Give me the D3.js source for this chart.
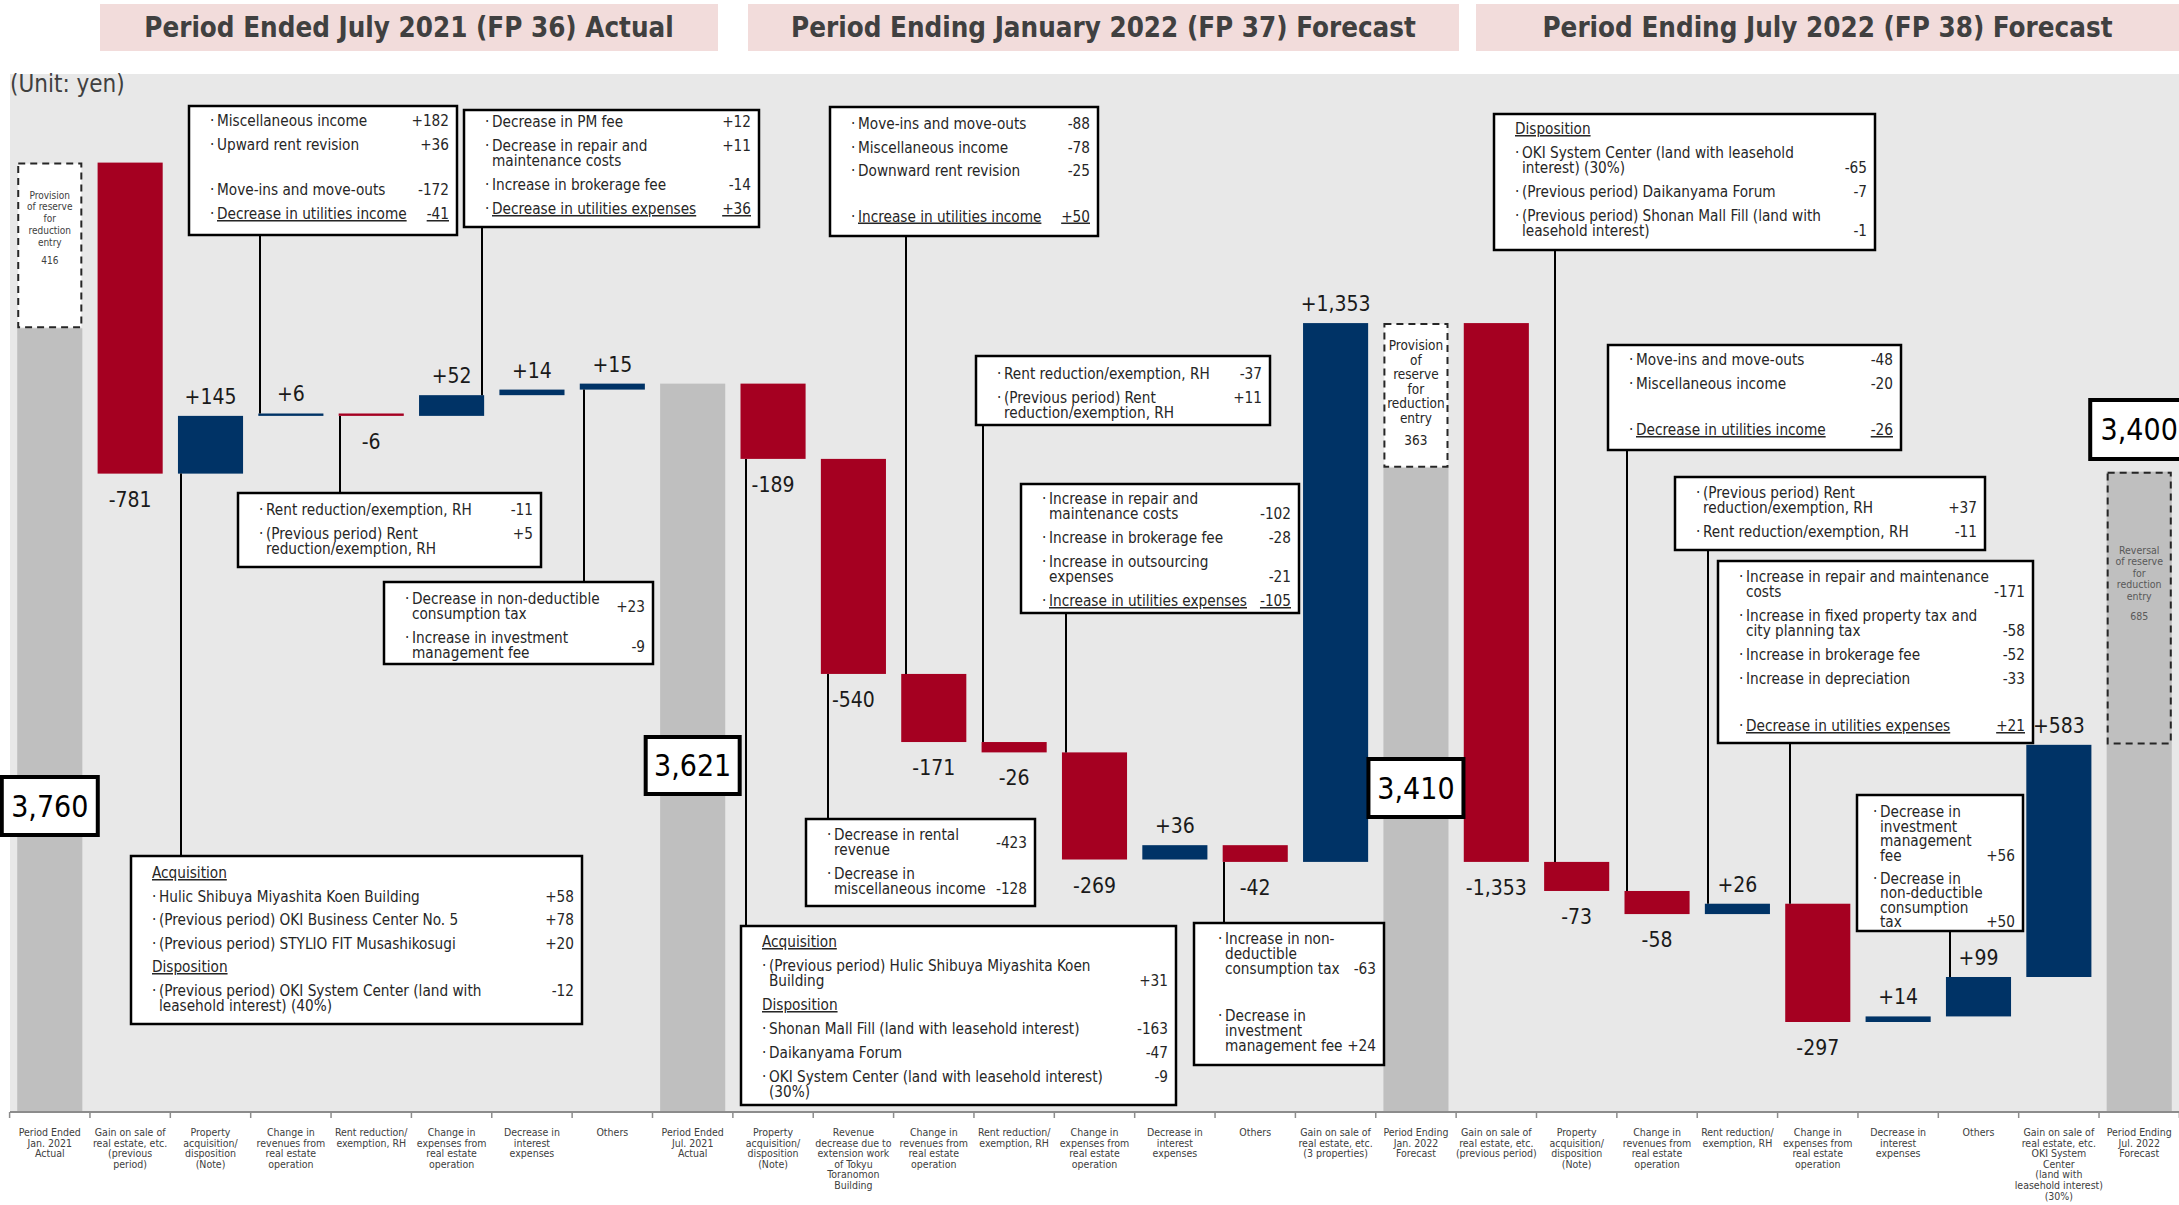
<!DOCTYPE html>
<html>
<head>
<meta charset="utf-8">
<script src="https://cdn.jsdelivr.net/npm/d3@7"></script>
<style>
  body { margin: 0; background: #fff; }
  svg { display: block; font-family: "DejaVu Sans Condensed", "DejaVu Sans", sans-serif; font-stretch: condensed; }
</style>
</head>
<body>
<svg id="chart" width="2179" height="1205"></svg>
<script>
// ---- data (unit: yen) ----
var periods = ["Period Ended July 2021 (FP 36) Actual",
               "Period Ending January 2022 (FP 37) Forecast",
               "Period Ending July 2022 (FP 38) Forecast"];

var categories = [
  ["Period Ended", "Jan. 2021", "Actual"],
  ["Gain on sale of", "real estate, etc.", "(previous", "period)"],
  ["Property", "acquisition/", "disposition", "(Note)"],
  ["Change in", "revenues from", "real estate", "operation"],
  ["Rent reduction/", "exemption, RH"],
  ["Change in", "expenses from", "real estate", "operation"],
  ["Decrease in", "interest", "expenses"],
  ["Others"],
  ["Period Ended", "Jul. 2021", "Actual"],
  ["Property", "acquisition/", "disposition", "(Note)"],
  ["Revenue", "decrease due to", "extension work", "of Tokyu", "Toranomon", "Building"],
  ["Change in", "revenues from", "real estate", "operation"],
  ["Rent reduction/", "exemption, RH"],
  ["Change in", "expenses from", "real estate", "operation"],
  ["Decrease in", "interest", "expenses"],
  ["Others"],
  ["Gain on sale of", "real estate, etc.", "(3 properties)"],
  ["Period Ending", "Jan. 2022", "Forecast"],
  ["Gain on sale of", "real estate, etc.", "(previous period)"],
  ["Property", "acquisition/", "disposition", "(Note)"],
  ["Change in", "revenues from", "real estate", "operation"],
  ["Rent reduction/", "exemption, RH"],
  ["Change in", "expenses from", "real estate", "operation"],
  ["Decrease in", "interest", "expenses"],
  ["Others"],
  ["Gain on sale of", "real estate, etc.", "OKI System", "Center", "(land with", "leasehold interest)", "(30%)"],
  ["Period Ending", "Jul. 2022", "Forecast"]
];

var values = [3760, -781, 145, 6, -6, 52, 14, 15,
              3621, -189, -540, -171, -26, -269, 36, -42, 1353,
              3410, -1353, -73, -58, 26, -297, 14, 99, 583,
              3400];
var totalIdx = [0, 8, 17, 26];

var reserveIdx = [0, 17, 26];
var reserveAmt = [416, 363, 685];
var reserveKind = ["provision", "provision", "reversal"];
var reserveLines = [
  ["Provision", "of reserve", "for", "reduction", "entry"],
  ["Provision", "of", "reserve", "for", "reduction", "entry"],
  ["Reversal", "of  reserve", "for", "reduction", "entry"]
];

// breakdown notes: text content, the bar each one points to
var noteCat = [3, 5, 4, 7, 2, 11, 12, 13, 10, 9, 15, 19, 20, 21, 22, 24];
var noteText = [
  [{t:["Miscellaneous income"], v:"+182"}, {t:["Upward rent revision"], v:"+36"}, {gap:21},
   {t:["Move-ins and move-outs"], v:"-172"}, {t:["Decrease in utilities income"], v:"-41", u:1}],
  [{t:["Decrease in PM fee"], v:"+12"}, {t:["Decrease in repair and", "maintenance costs"], v:"+11", at:0},
   {t:["Increase in brokerage fee"], v:"-14"}, {t:["Decrease in utilities expenses"], v:"+36", u:1}],
  [{t:["Rent reduction/exemption, RH"], v:"-11"}, {t:["(Previous period) Rent", "reduction/exemption, RH"], v:"+5", at:0}],
  [{t:["Decrease in non-deductible", "consumption tax"], v:"+23", at:0.5}, {t:["Increase in investment", "management fee"], v:"-9", at:0.6}],
  [{h:"Acquisition"}, {t:["Hulic Shibuya Miyashita Koen Building"], v:"+58"},
   {t:["(Previous period)  OKI Business Center No. 5"], v:"+78"},
   {t:["(Previous period) STYLIO FIT Musashikosugi"], v:"+20"}, {h:"Disposition"},
   {t:["(Previous period) OKI System Center (land with", "leasehold interest) (40%)"], v:"-12", at:0}],
  [{t:["Move-ins and move-outs"], v:"-88"}, {t:["Miscellaneous income"], v:"-78"},
   {t:["Downward rent revision"], v:"-25"}, {gap:22}, {t:["Increase in utilities income"], v:"+50", u:1}],
  [{t:["Rent reduction/exemption, RH"], v:"-37"}, {t:["(Previous period) Rent", "reduction/exemption, RH"], v:"+11", at:0}],
  [{t:["Increase in repair and", "maintenance costs"], v:"-102"}, {t:["Increase in brokerage fee"], v:"-28"},
   {t:["Increase in outsourcing", "expenses"], v:"-21"}, {t:["Increase in utilities expenses"], v:"-105", u:1}],
  [{t:["Decrease in rental", "revenue"], v:"-423", at:0.5}, {t:["Decrease in", "miscellaneous income"], v:"-128"}],
  [{h:"Acquisition"}, {t:["(Previous period) Hulic Shibuya Miyashita Koen", "Building"], v:"+31"}, {h:"Disposition"},
   {t:["Shonan Mall Fill (land with leasehold interest)"], v:"-163"}, {t:["Daikanyama Forum"], v:"-47"},
   {t:["OKI System Center (land with leasehold interest)", "(30%)"], v:"-9", at:0}],
  [{t:["Increase in non-", "deductible", "consumption tax"], v:"-63"}, {gap:23},
   {t:["Decrease in", "investment", "management fee"], v:"+24"}],
  [{h:"Disposition"}, {t:["OKI System Center (land with leasehold", "interest) (30%)"], v:"-65"},
   {t:["(Previous period) Daikanyama Forum"], v:"-7"},
   {t:["(Previous period) Shonan Mall Fill (land with", "leasehold interest)"], v:"-1"}],
  [{t:["Move-ins and move-outs"], v:"-48"}, {t:["Miscellaneous income"], v:"-20"}, {gap:22},
   {t:["Decrease in utilities income"], v:"-26", u:1}],
  [{t:["(Previous period) Rent", "reduction/exemption, RH"], v:"+37"}, {t:["Rent reduction/exemption, RH"], v:"-11"}],
  [{t:["Increase in repair and maintenance", "costs"], v:"-171"}, {t:["Increase in fixed property tax and", "city planning tax"], v:"-58"},
   {t:["Increase in brokerage fee"], v:"-52"}, {t:["Increase in depreciation"], v:"-33"}, {gap:23},
   {t:["Decrease in utilities expenses"], v:"+21", u:1}],
  [{t:["Decrease in", "investment", "management", "fee"], v:"+56"},
   {t:["Decrease in", "non-deductible", "consumption", "tax"], v:"+50"}]
];

// ---- layout (pixels) ----
var noteBox = [
  {x:189, y:106, w:268, h:129, lx:260, pad:20},
  {x:464, y:110, w:295, h:117, lx:482, pad:17},
  {x:238, y:493, w:303, h:74, lx:340, pad:22},
  {x:384, y:582, w:269, h:82, lx:584, pad:22},
  {x:131, y:856, w:451, h:168, lx:181, pad:22, step:23.5},
  {x:830, y:107, w:268, h:129, lx:906, pad:22, step:23.5},
  {x:976, y:356, w:294, h:69, lx:983, pad:23},
  {x:1021, y:484, w:278, h:129, lx:1066, pad:20},
  {x:806, y:819, w:229, h:87, lx:828, pad:21},
  {x:741, y:926, w:435, h:179, lx:746, pad:21},
  {x:1194, y:923, w:190, h:142, lx:1224, pad:21, pl:24},
  {x:1494, y:114, w:381, h:136, lx:1555, pad:20},
  {x:1608, y:345, w:293, h:105, lx:1627, pad:20},
  {x:1675, y:477, w:310, h:73, lx:1708, pad:21},
  {x:1718, y:561, w:315, h:182, lx:1790, pad:21},
  {x:1857, y:795, w:166, h:136, lx:1950, pad:22, lh:14.5, step:23, pl:16}
];
var headBox = [{x:100, w:618}, {x:748, w:711}, {x:1476, w:703}];
var totalBox = [{y:777, w:96, h:58}, {y:737, w:94, h:57}, {y:759, w:95, h:58}, {y:400, w:98, h:59}];
var reserveStyle = [
  {fs:10, lh:11.8, off:36, gap:18, fill:"#fff", col:"#404040"},
  {fs:13.5, lh:14.5, off:27, gap:22, fill:"#fff", col:"#262626"},
  {fs:10.5, lh:11.6, off:82, gap:20, fill:"#bfbfbf", col:"#595959"}
];

var RED = "#a50021", NAVY = "#003366", GRAY = "#bfbfbf", TXT = "#262626";
var svg = d3.select("#chart");

var x = d3.scaleBand().domain(d3.range(categories.length))
    .range([10, 2179]).paddingInner(0.19).paddingOuter(0.09);
var y = d3.scaleLinear().domain([1792, 4176]).range([1112, 162.6]);
var base = y.domain()[0];

// plain hyphen for negatives, like the source slide
var fmt = function(v) { return d3.format(",")(v).replace("\u2212", "-"); };

// waterfall
var bars = [], level = 0;
values.forEach(function(v, i) {
  var ri = reserveIdx.indexOf(i);
  if (totalIdx.indexOf(i) >= 0) {
    bars.push({i: i, lo: base, hi: v, v: v, total: true});
    level = v;
    if (ri >= 0 && reserveKind[ri] == "provision") level = v + reserveAmt[ri];
  } else {
    var nl = level + v;
    bars.push({i: i, lo: Math.min(level, nl), hi: Math.max(level, nl), v: v});
    level = nl;
  }
});

// headers
headBox.forEach(function(b, k) {
  svg.append("rect").attr("x", b.x).attr("y", 4).attr("width", b.w).attr("height", 47).attr("fill", "#f2dcdb");
  svg.append("text").attr("x", b.x + b.w / 2).attr("y", 37).attr("text-anchor", "middle")
    .attr("font-size", 27.5).attr("font-weight", "bold").attr("fill", "#404040").text(periods[k]);
});

// plot panel
svg.append("rect").attr("x", 10).attr("y", 74).attr("width", 2169).attr("height", 1112 - 74).attr("fill", "#e8e8e8");
svg.append("text").attr("x", 10).attr("y", 92).attr("font-size", 24).attr("fill", "#404040").text("(Unit: yen)");

// bars
svg.append("g").selectAll("rect").data(bars).enter().append("rect")
  .attr("x", function(d){ return x(d.i); })
  .attr("width", x.bandwidth())
  .attr("y", function(d){ return y(d.hi); })
  .attr("height", function(d){ return Math.max(1.5, y(d.lo) - y(d.hi)); })
  .attr("fill", function(d){ return d.total ? GRAY : (d.v < 0 ? RED : NAVY); });

// reserve boxes
reserveIdx.forEach(function(i, k) {
  var tot = values[i], lo, hi, st = reserveStyle[k];
  if (reserveKind[k] == "provision") { lo = tot; hi = tot + reserveAmt[k]; }
  else { lo = tot - reserveAmt[k]; hi = tot; }
  var x0 = x(i), y0 = y(hi);
  svg.append("rect").attr("x", x0 + 1).attr("y", y0 + 1).attr("width", x.bandwidth() - 2)
    .attr("height", y(lo) - y0 - 2).attr("fill", st.fill)
    .attr("stroke", "#262626").attr("stroke-width", 2).attr("stroke-dasharray", "7,5");
  var cx = x0 + x.bandwidth() / 2;
  reserveLines[k].forEach(function(line, j) {
    svg.append("text").attr("x", cx).attr("y", y0 + st.off + j * st.lh).attr("text-anchor", "middle")
      .attr("font-size", st.fs).attr("fill", st.col).text(line);
  });
  svg.append("text").attr("x", cx).attr("y", y0 + st.off + (reserveLines[k].length - 1) * st.lh + st.gap)
    .attr("text-anchor", "middle").attr("font-size", st.fs).attr("fill", st.col).text(reserveAmt[k]);
});

// notes: connectors then boxes
noteBox.forEach(function(b, k) {
  var bar = bars[noteCat[k]];
  var y1, y2;
  if (b.y + b.h < y(bar.hi)) { y1 = b.y + b.h; y2 = y(bar.hi); }
  else { y1 = y(bar.lo); y2 = b.y; }
  svg.append("line").attr("x1", b.lx).attr("x2", b.lx).attr("y1", y1).attr("y2", y2)
    .attr("stroke", "#000").attr("stroke-width", 2);
});

noteBox.forEach(function(b, k) {
  var g = svg.append("g").attr("font-size", 15.2).attr("fill", TXT);
  g.append("rect").attr("x", b.x).attr("y", b.y).attr("width", b.w).attr("height", b.h)
    .attr("fill", "#fff").attr("stroke", "#000").attr("stroke-width", 2.5);
  var yy = b.y + (b.pad || 20), lh = b.lh || 15, step = b.step || 24;
  var tx = b.x + (b.pl || 21), vx = b.x + b.w - 8;
  noteText[k].forEach(function(d) {
    if (d.gap) { yy += d.gap; return; }
    if (d.h) {
      g.append("text").attr("x", tx).attr("y", yy).style("text-decoration", "underline").text(d.h);
      yy += step; return;
    }
    g.append("text").attr("x", tx).attr("y", yy).text("·");
    d.t.forEach(function(line, j) {
      var t = g.append("text").attr("x", tx + 7).attr("y", yy + j * lh).text(line);
      if (d.u) t.style("text-decoration", "underline");
    });
    var at = d.at == null ? d.t.length - 1 : d.at;
    var vt = g.append("text").attr("x", vx).attr("y", yy + at * lh).attr("text-anchor", "end").text(d.v);
    if (d.u) vt.style("text-decoration", "underline");
    yy += d.t.length > 1 ? d.t.length * lh + (step - lh) : step;
  });
});

// delta value labels
svg.append("g").selectAll("text").data(bars.filter(function(d){ return !d.total; })).enter().append("text")
  .attr("x", function(d){ return x(d.i) + x.bandwidth() / 2; })
  .attr("y", function(d){ return d.v < 0 ? y(d.lo) + 33 : y(d.hi) - 12; })
  .attr("text-anchor", "middle").attr("font-size", 21).attr("fill", "#1a1a1a")
  .text(function(d){ return (d.v > 0 ? "+" : "") + fmt(d.v); });

// total value boxes
totalIdx.forEach(function(i, k) {
  var b = totalBox[k], cx = x(i) + x.bandwidth() / 2;
  svg.append("rect").attr("x", cx - b.w / 2).attr("y", b.y).attr("width", b.w).attr("height", b.h)
    .attr("fill", "#fff").attr("stroke", "#000").attr("stroke-width", 4);
  svg.append("text").attr("x", cx).attr("y", b.y + b.h / 2 + 10.5).attr("text-anchor", "middle")
    .attr("font-size", 30).attr("fill", "#000").text(fmt(values[i]));
});

// category axis
var step = x.step(), half = x.paddingInner() * step / 2;
svg.append("line").attr("x1", 10).attr("x2", 2179).attr("y1", 1112).attr("y2", 1112)
  .attr("stroke", "#8c8c8c").attr("stroke-width", 2);
d3.range(categories.length + 1).forEach(function(i) {
  var tx = (i < categories.length ? x(i) : x(i - 1) + step) - half;
  svg.append("line").attr("x1", tx).attr("x2", tx).attr("y1", 1112).attr("y2", 1118)
    .attr("stroke", "#8c8c8c").attr("stroke-width", 1.5);
});
categories.forEach(function(lines, i) {
  var t = svg.append("text").attr("text-anchor", "middle").attr("font-size", 10.5).attr("fill", "#404040");
  lines.forEach(function(line, j) {
    t.append("tspan").attr("x", x(i) + x.bandwidth() / 2).attr("y", 1136 + j * 10.6).text(line);
  });
});
</script>
</body>
</html>
